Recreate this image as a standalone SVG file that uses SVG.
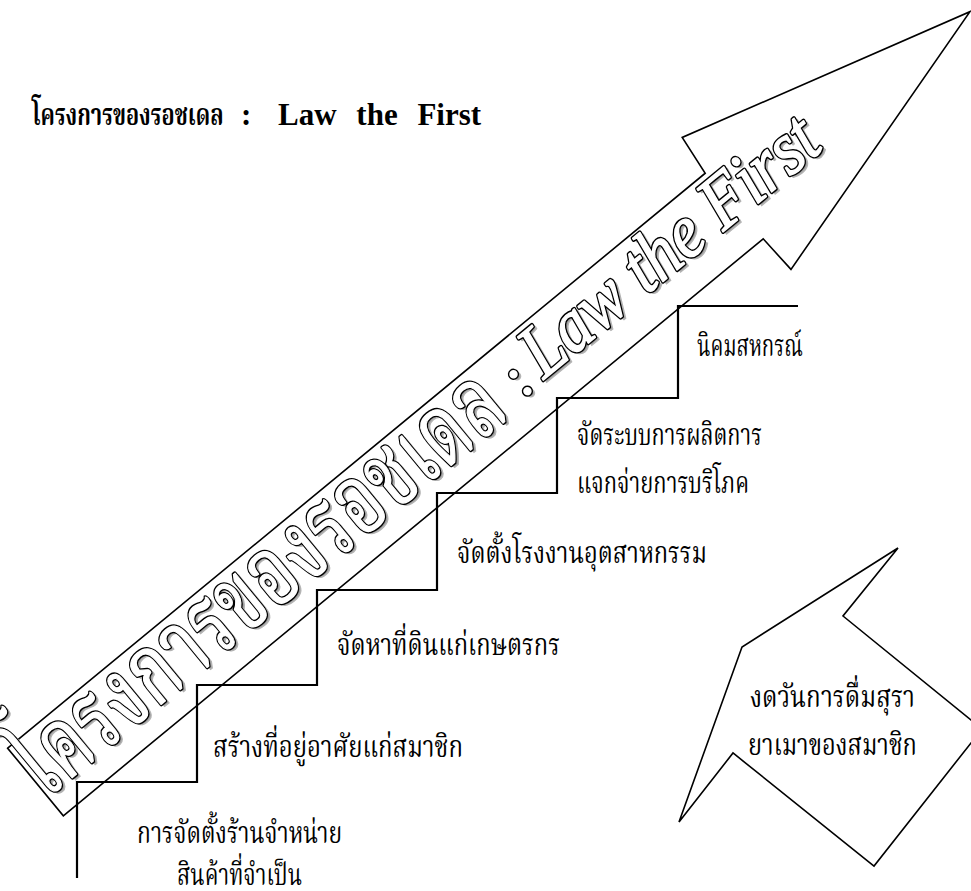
<svg xmlns="http://www.w3.org/2000/svg" width="971" height="891" viewBox="0 0 971 891">
  <style>
    .thai { font-family: "Liberation Serif", "Noto Serif Thai", "Norasi", "Noto Sans Thai", serif; }
    .lbl { font-size: 30px; fill: #000; }
    .ttl { font-size: 31px; font-weight: bold; fill: #000; }
    .latin { font-family: "Liberation Serif", serif; }
    .shape { fill: #fff; stroke: #000; stroke-width: 1.6; stroke-linejoin: miter; }
    .stair { fill: none; stroke: #000; stroke-width: 2.2; }
    .wa-shadow { fill: #9a9a9a; stroke: #b4b4b4; stroke-width: 1.5; }
    .wa-outer { fill: #fff; stroke: #000; stroke-width: 4.2; stroke-linejoin: round; }
    .wa-inner { fill: #fff; stroke: #fff; stroke-width: 1.3; stroke-linejoin: round; }
  </style>
  <defs>
    <!-- banner lettering, drawn in the banner's own rotated frame -->
    <g id="banner-text">
      <text class="thai" x="-4" y="20" font-size="98" textLength="606" lengthAdjust="spacingAndGlyphs">โครงการของรอชเดล</text>
      <text class="latin" x="620" y="14" font-size="60">:</text>
      <text class="latin" x="648" y="13" font-style="italic" font-size="76" textLength="364" lengthAdjust="spacingAndGlyphs">Law the First</text>
    </g>
  </defs>

  <!-- heading -->
  <g id="title">
    <text class="thai ttl" font-size="29" transform="translate(32 125) scale(0.7 1)">โครงการของรอชเดล</text>
    <text class="latin ttl" x="241" y="125" font-size="33">:</text>
    <text class="latin ttl" x="278" y="125" font-size="33" word-spacing="12">Law the First</text>
  </g>

  <!-- large rising arrow -->
  <g id="rising-arrow" transform="translate(35.5 782) rotate(-39.5)">
    <polygon class="shape" points="0,-43.75 904,-43.75 909,-86 1211,0 909,85 907,43.75 0,43.75"/>
  </g>

  <!-- staircase of steps -->
  <g id="connectors">
    <polyline class="stair" points="77,878 77,782 197,782 197,685 317,685 317,590 437,590 437,493 557,493 557,398 678,398 678,306 798,306"/>
  </g>

  <!-- banner lettering with shadow and double outline -->
  <g id="banner-lettering">
    <g transform="translate(39 784) rotate(-39.5)" class="wa-shadow"><use href="#banner-text"/></g>
    <g transform="translate(35.5 782) rotate(-39.5)" class="wa-outer"><use href="#banner-text"/></g>
    <g transform="translate(35.5 782) rotate(-39.5)" class="wa-inner"><use href="#banner-text"/></g>
  </g>

  <!-- step labels -->
  <g id="step-1" class="thai lbl">
    <text x="137" y="843" textLength="205" lengthAdjust="spacingAndGlyphs">การจัดตั้งร้านจำหน่าย</text>
    <text x="177" y="885" textLength="125" lengthAdjust="spacingAndGlyphs">สินค้าที่จำเป็น</text>
  </g>
  <g id="step-2" class="thai lbl">
    <text x="213" y="757" textLength="250" lengthAdjust="spacingAndGlyphs">สร้างที่อยู่อาศัยแก่สมาชิก</text>
  </g>
  <g id="step-3" class="thai lbl">
    <text x="337" y="655" textLength="223" lengthAdjust="spacingAndGlyphs">จัดหาที่ดินแก่เกษตรกร</text>
  </g>
  <g id="step-4" class="thai lbl">
    <text x="457" y="563" textLength="250" lengthAdjust="spacingAndGlyphs">จัดตั้งโรงงานอุตสาหกรรม</text>
  </g>
  <g id="step-5" class="thai lbl">
    <text x="577" y="445" textLength="185" lengthAdjust="spacingAndGlyphs">จัดระบบการผลิตการ</text>
    <text x="577" y="493" textLength="172" lengthAdjust="spacingAndGlyphs">แจกจ่ายการบริโภค</text>
  </g>
  <g id="step-6" class="thai lbl">
    <text x="697" y="356" textLength="106" lengthAdjust="spacingAndGlyphs">นิคมสหกรณ์</text>
  </g>

  <!-- side arrow -->
  <g id="side-arrow">
    <polygon class="shape" points="898,548 742,647 679,822 733,753 874,866 982,729 843,616"/>
    <text class="thai lbl" x="750" y="707" textLength="165" lengthAdjust="spacingAndGlyphs">งดวันการดื่มสุรา</text>
    <text class="thai lbl" x="748" y="755" textLength="169" lengthAdjust="spacingAndGlyphs">ยาเมาของสมาชิก</text>
  </g>
</svg>
